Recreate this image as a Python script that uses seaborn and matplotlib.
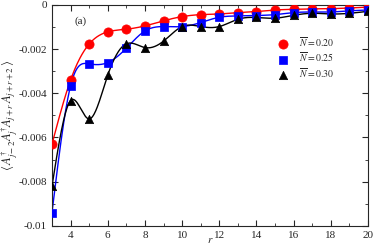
import numpy as np
import pandas as pd
import matplotlib
matplotlib.use("Agg")
import matplotlib.pyplot as plt
import seaborn as sns
from matplotlib.ticker import MultipleLocator

r = [3, 4, 5, 6, 7, 8, 9, 10, 11, 12, 13, 14, 15, 16, 17, 18, 19, 20]
n020 = [-0.0063, -0.0034, -0.00177, -0.00122, -0.0011, -0.00095, -0.00072, -0.00053,
        -0.00044, -0.00041, -0.00035, -0.00030, -0.00023, -0.00020, -0.00018, -0.00017,
        -0.00014, -0.00010]
n025 = [-0.0094, -0.00366, -0.00267, -0.00261, -0.00196, -0.00118, -0.00098, -0.00098,
        -0.00080, -0.00056, -0.00050, -0.00048, -0.00044, -0.00035, -0.00032, -0.00032,
        -0.00027, -0.00023]
n030 = [-0.0082, -0.00433, -0.00516, -0.00318, -0.00176, -0.00193, -0.00164, -0.00098,
        -0.00098, -0.00098, -0.00065, -0.00057, -0.00060, -0.00047, -0.00038, -0.00041,
        -0.00038, -0.00029]
labels = [r"$\overline{N}=0.20$", r"$\overline{N}=0.25$", r"$\overline{N}=0.30$"]
colors = ["#ff0000", "#0000ff", "#000000"]
markers = ["o", "s", "^"]


def natural_spline(x, y, xs):
    x = np.asarray(x, float); y = np.asarray(y, float)
    n = len(x)
    h = np.diff(x)
    A = np.zeros((n, n)); b = np.zeros(n)
    A[0, 0] = 1; A[-1, -1] = 1
    for i in range(1, n - 1):
        A[i, i - 1] = h[i - 1]
        A[i, i] = 2 * (h[i - 1] + h[i])
        A[i, i + 1] = h[i]
        b[i] = 6 * ((y[i + 1] - y[i]) / h[i] - (y[i] - y[i - 1]) / h[i - 1])
    M = np.linalg.solve(A, b)
    idx = np.clip(np.searchsorted(x, xs) - 1, 0, n - 2)
    x0 = x[idx]; x1 = x[idx + 1]; hh = x1 - x0
    t0 = x1 - xs; t1 = xs - x0
    return (M[idx] * t0**3 / (6 * hh) + M[idx + 1] * t1**3 / (6 * hh)
            + (y[idx] / hh - M[idx] * hh / 6) * t0 + (y[idx + 1] / hh - M[idx + 1] * hh / 6) * t1)


sns.set_style("ticks")
plt.rcParams["font.family"] = ["Liberation Serif", "DejaVu Serif"]
plt.rcParams["mathtext.fontset"] = "stix"

fig = plt.figure(figsize=(3.74, 2.45), dpi=100)
ax = fig.add_axes([0.139, 0.078, 0.845, 0.902])

xs = np.linspace(3, 20, 600)
for vals, lab, c, m in zip([n020, n025, n030], labels, colors, markers):
    curve = pd.DataFrame({"r": xs, "v": natural_spline(r, vals, xs)})
    sns.lineplot(data=curve, x="r", y="v", color=c, lw=1.0, ax=ax, legend=False)
    pts = pd.DataFrame({"r": r, "v": vals})
    sns.scatterplot(data=pts, x="r", y="v", color=c, marker=m, s=36 if m != "o" else 44,
                    edgecolor=c, linewidth=0.5, ax=ax, label=lab, zorder=3)

ax.set_xlim(3, 20)
ax.set_ylim(-0.01, 0)
ax.xaxis.set_minor_locator(MultipleLocator(1))
ax.yaxis.set_minor_locator(MultipleLocator(0.001))
ax.set_xticks([4, 6, 8, 10, 12, 14, 16, 18, 20])
ax.set_yticks([-0.01, -0.008, -0.006, -0.004, -0.002, 0])
ax.set_yticklabels(["-0.01", "-0.008", "-0.006", "-0.004", "-0.002", "0"])
ax.tick_params(which="both", direction="in", top=True, right=True, labelsize=8)
ax.tick_params(which="major", length=4)
ax.tick_params(which="minor", length=2)
for s in ax.spines.values():
    s.set_linewidth(0.8)
ax.set_xlabel(r"$r$", fontsize=8, labelpad=-3)
ax.set_ylabel(r"$\langle\, A^{\dagger}_{j-2}A^{\dagger}_{j}A_{j+r}\,A_{j+r+2}\,\rangle$",
              fontsize=9)
ax.yaxis.set_label_coords(-0.1, 0.5)
ax.text(0.07, 0.915, "(a)", transform=ax.transAxes, fontsize=8)
ax.legend(loc="upper left", bbox_to_anchor=(0.685, 0.895), frameon=False, fontsize=7,
          handletextpad=0.9, labelspacing=0.2, borderpad=0.2, handlelength=1.5)

fig.savefig("out.png", dpi=100)
